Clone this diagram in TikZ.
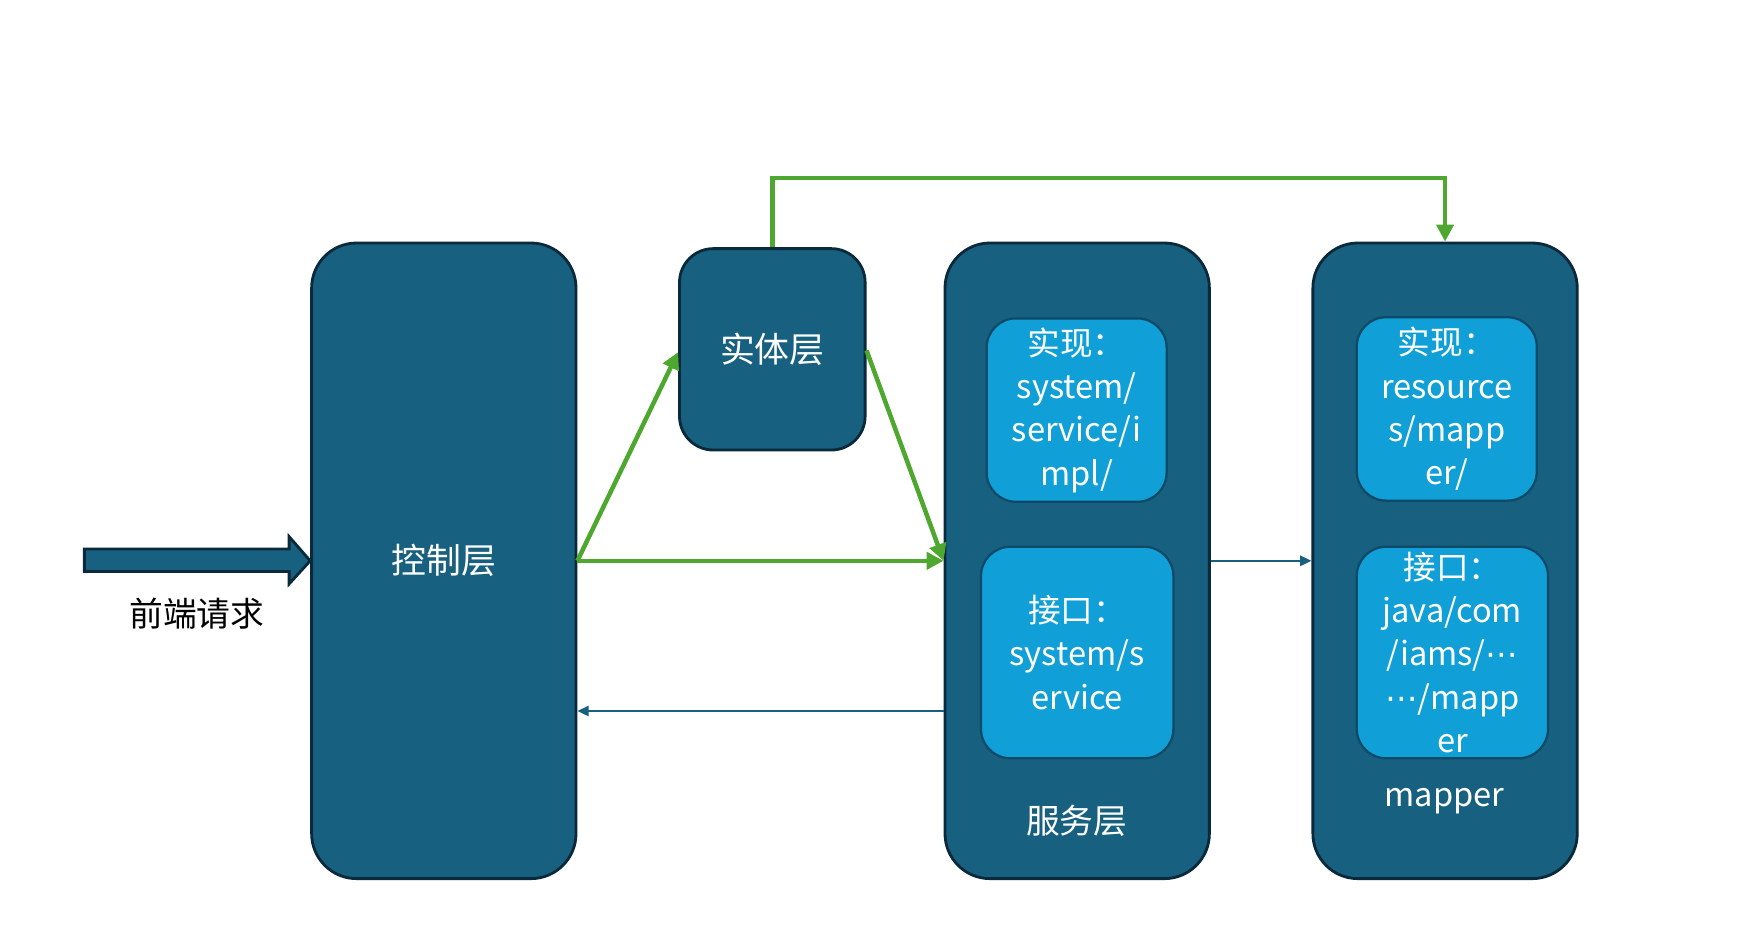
\documentclass[tikz,border=0pt]{standalone}
\usepackage{fontspec}
\setmainfont{Noto Sans CJK SC}
\newfontfamily\symfont{DejaVu Sans}
\usetikzlibrary{arrows.meta,calc}
\definecolor{boxfill}{HTML}{17607F}
\definecolor{boxline}{HTML}{0A2A3C}
\definecolor{innerfill}{HTML}{109FD6}
\definecolor{innerline}{HTML}{0D4A68}
\definecolor{flowgreen}{HTML}{4EA72E}
\newcommand{\mdots}{{\symfont ⋯}}
\begin{document}
\begin{tikzpicture}[x=1pt,y=-1pt,
  layer/.style={draw=boxline,line width=2.5pt,fill=boxfill,rounded corners=40pt,
    text=white,font=\fontsize{31}{38}\selectfont,inner sep=0pt},
  inner/.style={draw=innerline,line width=2pt,fill=innerfill,rounded corners=26pt,
    text=white,align=center,font=\fontsize{29}{38.5}\selectfont,inner sep=0pt},
  lbl/.style={text=white,font=\fontsize{31}{38}\selectfont,inner sep=0pt},
  greenarrow/.style={draw=flowgreen,line width=4pt,-{Triangle[length=15pt,width=15pt]}},
  bluearrow/.style={draw=boxfill,line width=2pt,-{Triangle[length=10pt,width=9pt]}}]
\useasboundingbox (0,0) rectangle (1560,830);
\node[layer,minimum width=235pt,minimum height=565pt] (ctrl) at (394.5,498.5) {控制层};
\node[layer,minimum width=165pt,minimum height=179pt,rounded corners=30pt] (ent) at (686.5,310.5) {实体层};
\node[layer,minimum width=235pt,minimum height=565pt] (svc) at (957.5,498.5) {};
\node[layer,minimum width=235pt,minimum height=565pt] (map) at (1284.5,498.5) {};
\node[inner,minimum width=160pt,minimum height=163pt] (svcimpl) at (957,364.5) {实现：\\system/\\service/i\\mpl/};
\node[inner,minimum width=171pt,minimum height=188pt] (svcif) at (957.5,580) {接口：\\system/s\\ervice};
\node[inner,minimum width=160pt,minimum height=163pt] (mapimpl) at (1286,363.5) {实现：\\resource\\s/mapp\\er/};
\node[inner,minimum width=170pt,minimum height=188pt] (mapif) at (1291,580) {接口：\\java/com\\/iams/\mdots\\\mdots/mapp\\er};
\node[lbl,font=\fontsize{30}{38}\selectfont] (svclbl) at (957,730) {服务层};
\node[lbl,font=\fontsize{29}{38}\selectfont] (maplbl) at (1284,712) {mapper};
\node[inner sep=0pt,font=\fontsize{30}{38}\selectfont] (req) at (175,545) {前端请求};
% block arrow into control layer
\draw[draw=boxline,line width=2.5pt,fill=boxfill,line join=miter]
  (75,488) -- (257,488) -- (257,477) -- (ctrl.west) -- (257,519) -- (257,508) -- (75,508) -- cycle;
% green flows
\draw[greenarrow] (ctrl.east) -- ($(ent.west)+(0,2.5)$);
\draw[greenarrow] ($(ent.east)+(0,1)$) -- (svc.west);
\draw[greenarrow] (ctrl.east) -- (svc.west);
\draw[greenarrow] (ent.north) |- (870,158) -| (map.north);
% blue flows
\draw[bluearrow] (svc.east) -- (map.west);
\draw[bluearrow] (svc.west |- 0,632) -- (ctrl.east |- 0,632);
\end{tikzpicture}
\end{document}
